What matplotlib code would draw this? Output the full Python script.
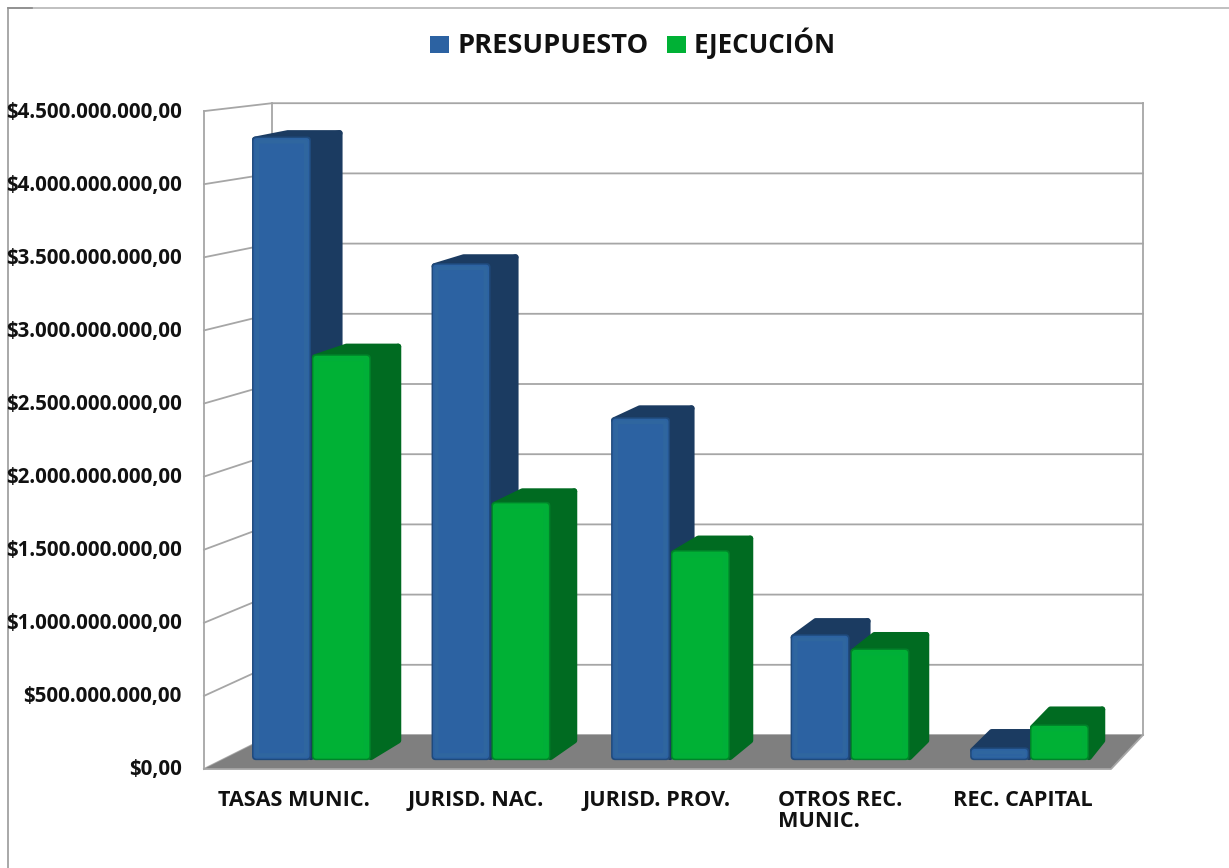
import numpy as np
import matplotlib
matplotlib.use('Agg')
import matplotlib.pyplot as plt
from matplotlib.patches import Polygon, FancyBboxPatch, Rectangle

# valores del grafico (en miles de millones)
categorias = ['TASAS MUNIC.', 'JURISD. NAC.', 'JURISD. PROV.', 'OTROS REC.\nMUNIC.', 'REC. CAPITAL']
presupuesto = [4.31, 3.435, 2.37, 0.87, 0.088]
ejecucion = [2.805, 1.785, 1.452, 0.772, 0.247]
ticks = [0, 0.5, 1.0, 1.5, 2.0, 2.5, 3.0, 3.5, 4.0, 4.5]
tick_labels = ['$0,00', '$500.000.000,00', '$1.000.000.000,00', '$1.500.000.000,00',
               '$2.000.000.000,00', '$2.500.000.000,00', '$3.000.000.000,00',
               '$3.500.000.000,00', '$4.000.000.000,00', '$4.500.000.000,00']
label_x = [218, 408, 583, 778, 953]

plt.rcParams['font.family'] = ['Open Sans', 'DejaVu Sans']

fig = plt.figure(figsize=(12.29, 8.68), dpi=100)
ax = fig.add_axes([0, 0, 1, 1])
ax.set_xlim(0, 1229)
ax.set_ylim(868, 0)
ax.axis('off')


# proyeccion simple: x 0-5 categorias, v valor, d profundidad 0-1
def proy(x, v, d):
    izq = 204 + 68 * d
    der = 1111 + 32 * d
    px = izq + (der - izq) * x / 5
    py = (769 - 34 * d) - v * (146.2 - 5.8 * d)
    return px, py


GRIS = '#A6A6A6'

# borde del grafico
ax.plot([8, 8], [868, 8], color='#9A9A9A', lw=1.2)
ax.plot([8, 1229], [8, 8], color='#B5B5B5', lw=1.2)
ax.plot([8, 32], [8, 8], color='#8A8A8A', lw=1.2)

# paredes
for t in ticks:
    p0 = proy(0, t, 0)
    p1 = proy(0, t, 1)
    p2 = proy(5, t, 1)
    ax.plot([p0[0], p1[0], p2[0]], [p0[1], p1[1], p2[1]], color=GRIS, lw=1.3, zorder=1)
for x, d in [(0, 0), (0, 1), (5, 1)]:
    a = proy(x, 0, d)
    b = proy(x, ticks[-1], d)
    ax.plot([a[0], b[0]], [a[1], b[1]], color=GRIS, lw=1.3, zorder=1)

# piso
piso = [proy(0, 0, 0), proy(5, 0, 0), proy(5, 0, 1), proy(0, 0, 1)]
ax.add_patch(Polygon(piso, closed=True, fc='#7F7F7F', ec='none', zorder=2))
ax.plot([piso[0][0], piso[1][0], piso[2][0]], [piso[0][1], piso[1][1], piso[2][1]], color=GRIS, lw=1.3, zorder=2)

D0, D1 = 0.26, 0.75
ANCHO = 0.3285
MARGEN = 0.169
R = 3  # radio de las esquinas en px
z = 3


def barra(x0, v, frente, lado, borde, claro):
    global z
    x1 = x0 + ANCHO
    # cara superior y lateral, encogidas R px y con borde redondo
    fi, ft = proy(x0, v, D0), proy(x1, v, D0)
    bi, bt = proy(x0, v, D1), proy(x1, v, D1)
    fb, bb = proy(x1, 0, D0), proy(x1, 0, D1)
    sup = [(fi[0] + R, fi[1] + R), (ft[0], ft[1] + R), (bt[0] - R, bt[1] + R - 2), (bi[0] + R, bi[1] + R - 2)]
    lat = [(ft[0], ft[1] + R), (fb[0], fb[1] - R), (bb[0] - R, bb[1] - R), (bt[0] - R, bt[1] + R - 2)]
    for pts in (sup, lat):
        ax.add_patch(Polygon(pts, closed=True, fc=lado, ec=lado, lw=R * 2 * 0.72, joinstyle='round', zorder=z))
    # cara frontal con bisel
    xa, ya = fi
    xb, yb = fb
    pasos = [(0, borde), (1.5, frente), (3, claro), (7, frente)]
    for inset, col in pasos:
        w = xb - xa - 2 * inset
        h = yb - ya - 2 * inset
        r = max(0.5, min(4 - inset / 2, h / 2.5))
        ax.add_patch(FancyBboxPatch((xa + inset + r, ya + inset + r), w - 2 * r, max(h - 2 * r, 0.1),
                                    boxstyle='round,pad=%.2f,rounding_size=%.2f' % (r, r),
                                    fc=col, ec='none', zorder=z + 0.1))
    z += 1


for i in range(len(categorias)):
    barra(i + MARGEN, presupuesto[i], '#2C62A2', '#1B3B61', '#1F4A7C', '#2F669F')
    barra(i + MARGEN + ANCHO + 0.005, ejecucion[i], '#00B135', '#006B21', '#00832A', '#00AF38')

# eje de valores
for t, lab in zip(ticks, tick_labels):
    ax.text(182, proy(0, t, 0)[1] + 6.5, lab, ha='right', va='baseline', fontsize=14.8, fontweight='bold', color='#111111', zorder=20)

for x, lab in zip(label_x, categorias):
    ax.text(x, 790, lab, ha='left', va='top', fontsize=15.6, fontweight='bold', color='#111111', linespacing=0.98, zorder=20)

# leyenda
ax.add_patch(Rectangle((430, 36), 19, 17, fc='#2C62A2', ec='none'))
ax.text(457, 53, 'PRESUPUESTO', ha='left', va='baseline', fontsize=19.6, fontweight='bold', color='#111111')
ax.add_patch(Rectangle((667, 36), 19, 17, fc='#00B135', ec='none'))
ax.text(694, 53, 'EJECUCIÓN', ha='left', va='baseline', fontsize=18.6, fontweight='bold', color='#111111')

fig.savefig('out.png', dpi=100)
